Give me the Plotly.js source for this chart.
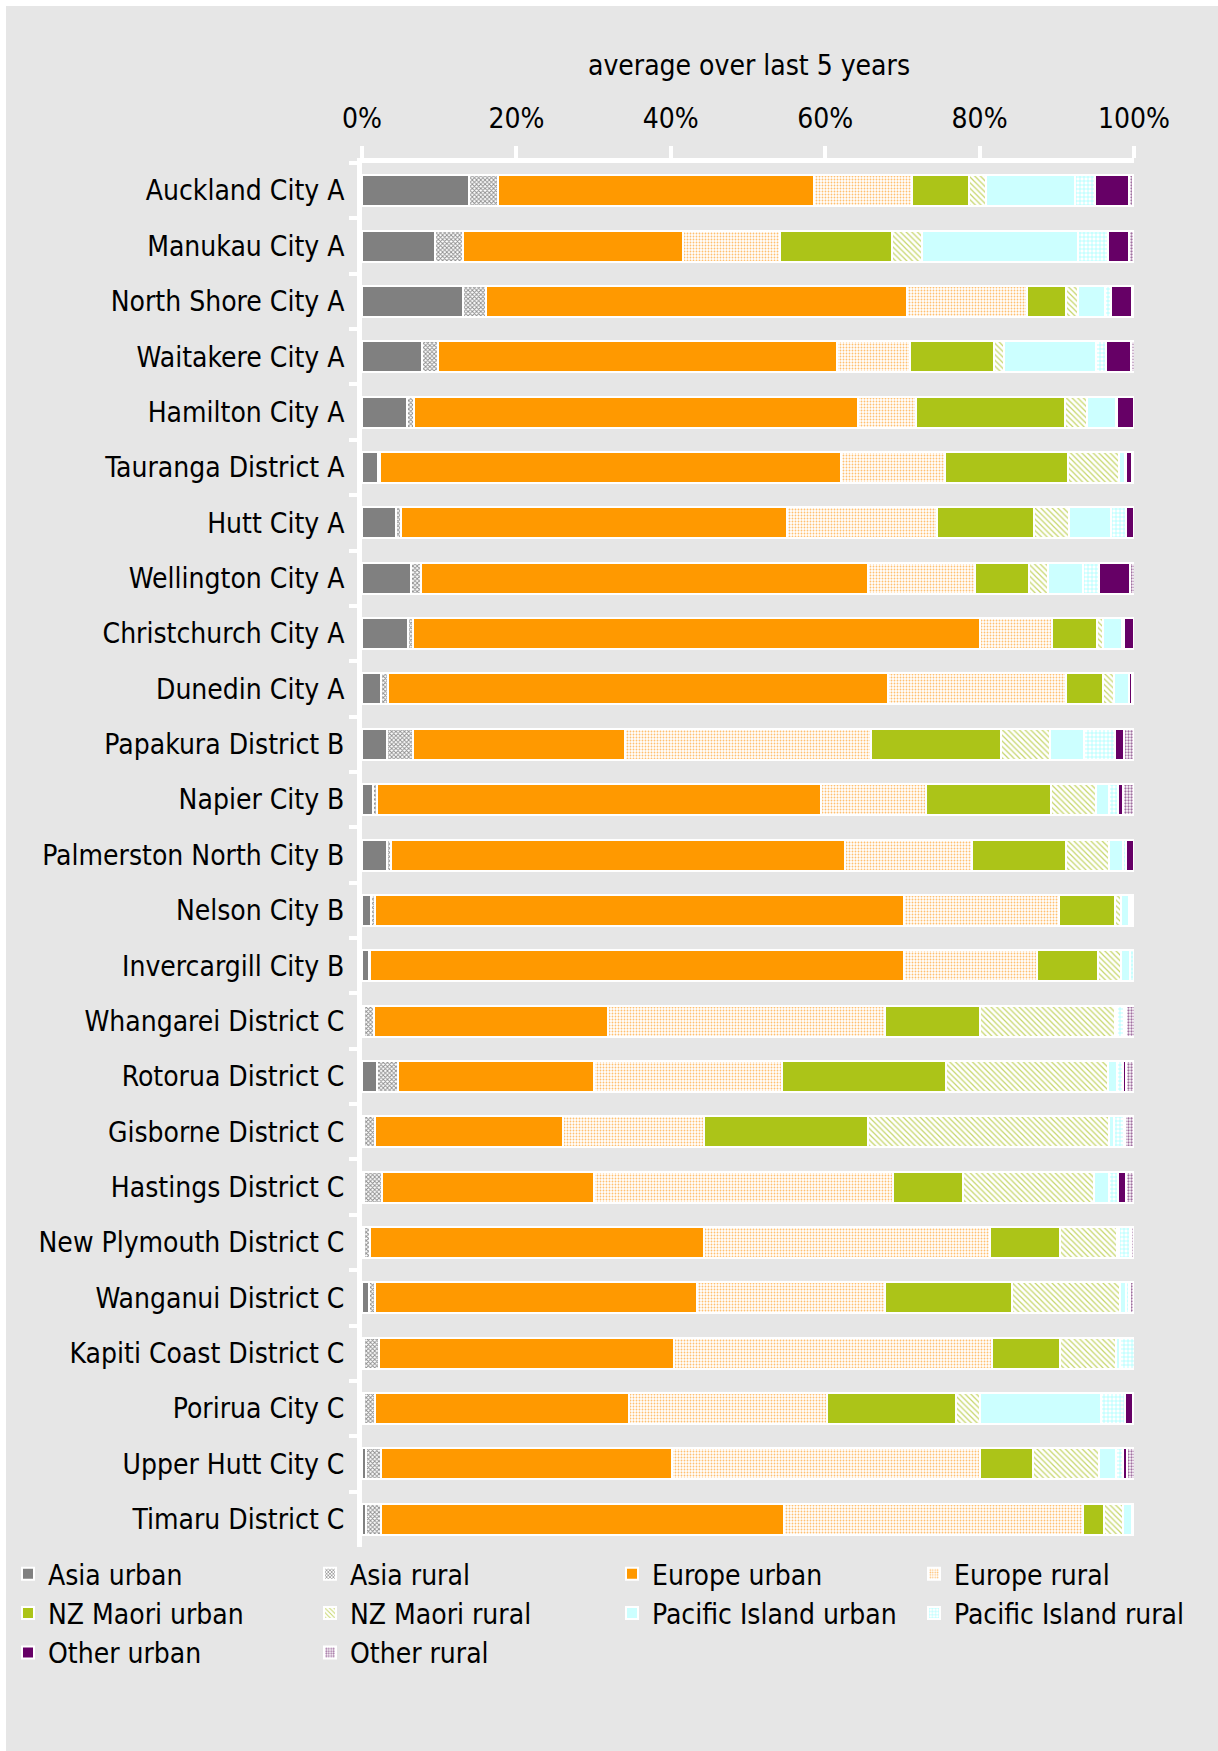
<!DOCTYPE html>
<html>
<head>
<meta charset="utf-8">
<script src="https://cdn.plot.ly/plotly-3.0.1.min.js"></script>
<style>
  html, body { margin: 0; padding: 0; background: #ffffff; overflow: hidden; }
  #chart { position: absolute; left: 6px; top: 6px; width: 1400px; height: 1745px; }
</style>
</head>
<body>
<div id="chart"></div>
<script>
// ---- data (percent of total) ----
const categories = [
  "Auckland City A", "Manukau City A", "North Shore City A", "Waitakere City A", "Hamilton City A",
  "Tauranga District A", "Hutt City A", "Wellington City A", "Christchurch City A", "Dunedin City A",
  "Papakura District B", "Napier City B", "Palmerston North City B", "Nelson City B", "Invercargill City B",
  "Whangarei District C", "Rotorua District C", "Gisborne District C", "Hastings District C", "New Plymouth District C",
  "Wanganui District C", "Kapiti Coast District C", "Porirua City C", "Upper Hutt City C", "Timaru District C"
];
const asiaUrban    = [13.8, 9.5, 13.1, 7.8, 5.8, 2.1, 4.4, 6.3, 6.0, 2.5, 3.3, 1.4, 3.3, 1.2, 0.9, 0.2, 1.9, 0.2, 0.3, 0.3, 0.9, 0.3, 0.3, 0.5, 0.5];
const asiaRural    = [3.8, 3.6, 3.0, 2.1, 0.9, 0.2, 0.7, 1.4, 0.6, 0.9, 3.3, 0.5, 0.5, 0.5, 0.1, 1.3, 2.8, 1.5, 2.3, 0.7, 0.8, 1.9, 1.4, 1.9, 1.9];
const europeUrban  = [40.9, 28.5, 54.5, 51.6, 57.6, 59.7, 49.9, 57.8, 73.4, 64.7, 27.5, 57.6, 58.8, 68.5, 69.2, 30.4, 25.3, 24.3, 27.5, 43.3, 41.7, 38.2, 32.9, 37.7, 52.3];
const europeRural  = [12.7, 12.5, 15.6, 9.5, 7.4, 13.5, 19.5, 13.9, 9.4, 23.1, 31.8, 13.6, 16.4, 20.1, 17.2, 35.9, 24.4, 18.3, 38.7, 37.0, 24.4, 41.2, 25.6, 40.0, 38.7];
const maoriUrban   = [7.4, 14.6, 5.0, 10.9, 19.4, 16.0, 12.5, 7.0, 5.8, 4.8, 16.9, 16.2, 12.2, 7.2, 7.9, 12.3, 21.3, 21.3, 9.0, 9.1, 16.4, 8.8, 16.8, 6.8, 2.7];
const maoriRural   = [2.2, 3.8, 1.5, 1.3, 2.8, 6.6, 4.6, 2.4, 0.8, 1.4, 6.3, 5.8, 5.6, 0.8, 3.0, 17.4, 20.9, 31.1, 17.0, 7.4, 14.0, 7.3, 3.0, 8.6, 2.5];
const pacificUrban = [11.6, 20.3, 3.5, 11.9, 3.8, 0.7, 5.4, 4.6, 2.5, 1.9, 4.4, 1.7, 1.8, 1.0, 1.2, 0.3, 1.2, 0.7, 1.9, 0.2, 0.7, 0.5, 15.7, 2.2, 1.2];
const pacificRural = [2.6, 3.8, 0.8, 1.3, 0.1, 0.2, 1.9, 2.1, 0.2, 0.1, 4.1, 1.1, 0.3, 0.3, 0.5, 0.9, 0.8, 1.3, 1.2, 1.5, 0.5, 1.9, 3.1, 0.9, 0.1];
const otherUrban   = [4.3, 2.7, 2.7, 3.2, 2.2, 0.7, 1.1, 4.0, 1.3, 0.3, 1.1, 0.7, 1.1, 0.1, 0.0, 0.3, 0.3, 0.1, 1.1, 0.1, 0.1, 0.0, 1.1, 0.5, 0.0];
const otherRural   = [0.6, 0.7, 0.3, 0.5, 0.1, 0.2, 0.0, 0.6, 0.0, 0.2, 1.3, 1.4, 0.0, 0.3, 0.0, 1.1, 1.1, 1.2, 1.0, 0.4, 0.5, 0.0, 0.1, 1.0, 0.0];
const tickValues = [0, 20, 40, 60, 80, 100];
const tickLabels = ["0%", "20%", "40%", "60%", "80%", "100%"];
const titleText = "average over last 5 years";

// ---- styles ----
const FONT = '"DejaVu Sans Condensed", "DejaVu Sans", sans-serif';
const BG = '#e6e6e6';

function solid(color) { return { color: color, line: { color: '#ffffff', width: 2 } }; }
function pat(shape, fg, size, sol) {
  return { color: '#ffffff', line: { color: '#ffffff', width: 2 },
           pattern: { shape: shape, fgcolor: fg, bgcolor: '#ffffff', size: size, solidity: sol, fillmode: 'replace' } };
}

const series = [
  { name: 'Asia urban', x: asiaUrban, marker: solid('#808080') },
  { name: 'Asia rural', x: asiaRural, marker: pat('x', '#8c8c8c', 3, 0.5) },
  { name: 'Europe urban', x: europeUrban, marker: solid('#ff9900') },
  { name: 'Europe rural', x: europeRural, marker: pat('.', '#ffc070', 3, 0.3) },
  { name: 'NZ Maori urban', x: maoriUrban, marker: solid('#acc418') },
  { name: 'NZ Maori rural', x: maoriRural, marker: pat('\\', '#c6d66a', 4, 0.3) },
  { name: 'Pacific Island urban', x: pacificUrban, marker: solid('#ccffff') },
  { name: 'Pacific Island rural', x: pacificRural, marker: pat('+', '#99ffff', 4, 0.3) },
  { name: 'Other urban', x: otherUrban, marker: solid('#660066') },
  { name: 'Other rural', x: otherRural, marker: pat('.', '#a070a0', 3, 0.45) }
];

const traces = series.map(s => ({
  type: 'bar', orientation: 'h', name: s.name, x: s.x, y: categories,
  marker: s.marker, hoverinfo: 'name+x'
}));

const W = 1400, H = 1745;
const layout = {
  width: W, height: H,
  paper_bgcolor: BG, plot_bgcolor: BG,
  margin: { l: 0, r: 0, t: 0, b: 0, autoexpand: false },
  font: { family: FONT, size: 28, color: '#000000' },
  barmode: 'stack', bargap: 0.44,
  title: { text: titleText, font: { family: FONT, size: 28, color: '#000000' },
           xref: 'container', yref: 'container', x: 743 / W, y: 1 - 59 / H, xanchor: 'center', yanchor: 'middle' },
  xaxis: {
    domain: [356 / W, 1128 / W], side: 'top', range: [0, 100], fixedrange: true,
    tickmode: 'array', tickvals: tickValues, ticktext: tickLabels,
    ticks: 'outside', ticklen: 12, tickwidth: 4, tickcolor: '#ffffff', ticklabelstandoff: 7,
    showline: true, linecolor: '#ffffff', linewidth: 5, showgrid: false, zeroline: false,
    tickfont: { family: FONT, size: 28, color: '#000000' }
  },
  yaxis: {
    domain: [1 - 1541 / H, 1 - 157 / H], autorange: false, range: [24.5, -0.5], type: 'category',
    tickson: 'boundaries', ticks: 'outside', ticklen: 8, tickwidth: 4, tickcolor: '#ffffff', ticklabelstandoff: 7,
    showline: true, linecolor: '#ffffff', linewidth: 5, showgrid: false, zeroline: false,
    tickfont: { family: FONT, size: 28, color: '#000000' }
  },
  showlegend: true,
  legend: {
    orientation: 'h', traceorder: 'normal', x: 2 / W, xanchor: 'left', y: 1 - 1543 / H, yanchor: 'top',
    entrywidth: 257, entrywidthmode: 'pixels', bgcolor: 'rgba(0,0,0,0)', borderwidth: 0,
    font: { family: FONT, size: 28, color: '#000000' }, itemclick: false, itemdoubleclick: false
  }
};

Plotly.newPlot('chart', traces, layout, { displayModeBar: false, staticPlot: true });
</script>
</body>
</html>
